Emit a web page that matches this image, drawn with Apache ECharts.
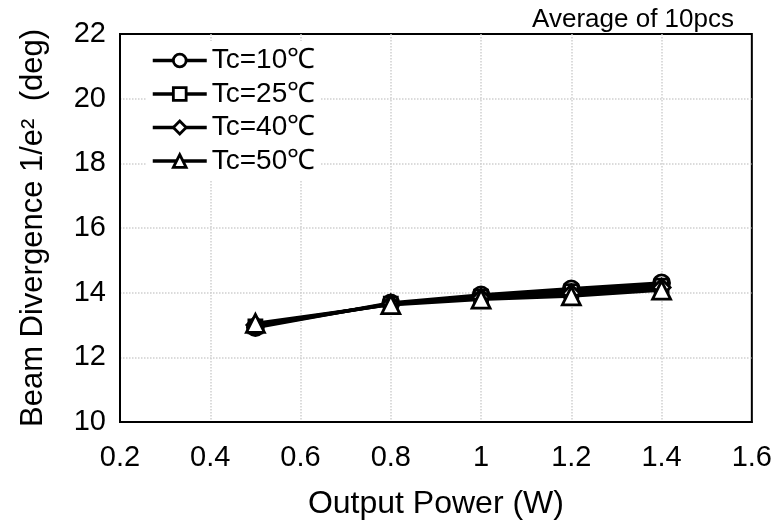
<!DOCTYPE html>
<html>
<head>
<meta charset="utf-8">
<script src="https://cdn.jsdelivr.net/npm/echarts@6/dist/echarts.min.js"></script>
<style>
html,body{margin:0;padding:0;background:#fff;}
#chart{width:775px;height:525px;}
</style>
</head>
<body>
<div id="chart"></div>
<script>
// Data
var outputPower = [0.5, 0.8, 1.0, 1.2, 1.4];
var seriesNames = ['Tc=10℃', 'Tc=25℃', 'Tc=40℃', 'Tc=50℃'];
var tc10 = [12.92, 13.68, 13.93, 14.12, 14.30];
var tc25 = [12.96, 13.66, 13.88, 14.05, 14.22];
var tc40 = [13.00, 13.64, 13.84, 13.98, 14.16];
var tc50 = [13.05, 13.63, 13.80, 13.90, 14.08];
var seriesValues = [tc10, tc25, tc40, tc50];
var symbols = ['circle', 'rect', 'diamond', 'triangle'];
var symbolSizes = [16, 13, 17, 18];
var noteText = 'Average of 10pcs';
var xTitle = 'Output Power (W)';
var yTitle = 'Beam Divergence 1/e²  (deg)';

var FONT = '"Liberation Sans", Arial, sans-serif';

function pairs(xs, ys) {
  return xs.map(function (x, i) { return [x, ys[i]]; });
}

var series = seriesNames.map(function (name, i) {
  return {
    name: name,
    type: 'line',
    data: pairs(outputPower, seriesValues[i]),
    symbol: symbols[i],
    symbolSize: symbolSizes[i],
    showAllSymbol: true,
    lineStyle: { color: '#000', width: 3.5 },
    itemStyle: { color: '#fff', borderColor: '#000', borderWidth: 2.8 },
    z: 2 + i
  };
});

var chart = echarts.init(document.getElementById('chart'), null, { renderer: 'canvas' });
chart.setOption({
  animation: false,
  backgroundColor: '#fff',
  textStyle: { fontFamily: FONT },
  title: {
    text: noteText,
    right: 36,
    top: 2,
    textStyle: { fontFamily: FONT, fontSize: 26, fontWeight: 'normal', color: '#000' }
  },
  grid: {
    left: 120, right: 22, top: 34, bottom: 100,
    show: true, borderColor: '#000', borderWidth: 2
  },
  legend: {
    orient: 'vertical',
    left: 146,
    top: 41,
    itemWidth: 54,
    itemHeight: 16,
    itemGap: 4.5,
    data: seriesNames,
    lineStyle: { width: 3.5, color: '#000' },
    itemStyle: { color: '#fff', borderColor: '#000', borderWidth: 2.8 },
    textStyle: { fontFamily: FONT, fontSize: 28, color: '#000', lineHeight: 29 },
    backgroundColor: '#fff'
  },
  xAxis: {
    type: 'value',
    min: 0.2, max: 1.6, interval: 0.2,
    name: xTitle,
    nameLocation: 'middle',
    nameGap: 66,
    nameTextStyle: { fontFamily: FONT, fontSize: 32, color: '#000' },
    axisLine: { show: true, lineStyle: { color: '#000', width: 2 } },
    axisTick: { show: false },
    axisLabel: { fontFamily: FONT, fontSize: 29, color: '#000', margin: 21,
      formatter: function (v) { return String(Math.round(v * 10) / 10); } },
    splitLine: { show: true, showMinLine: false, showMaxLine: false,
      lineStyle: { color: '#cfcfcf', width: 1.5, type: 'dotted' } }
  },
  yAxis: {
    type: 'value',
    min: 10, max: 22, interval: 2,
    name: yTitle,
    nameLocation: 'middle',
    nameGap: 71,
    nameTextStyle: { fontFamily: FONT, fontSize: 31, color: '#000' },
    axisLine: { show: true, lineStyle: { color: '#000', width: 2 } },
    axisTick: { show: false },
    axisLabel: { fontFamily: FONT, fontSize: 29, color: '#000', margin: 14 },
    splitLine: { show: true, showMinLine: false, showMaxLine: false,
      lineStyle: { color: '#cfcfcf', width: 1.5, type: 'dotted' } }
  },
  series: series
});
</script>
</body>
</html>
